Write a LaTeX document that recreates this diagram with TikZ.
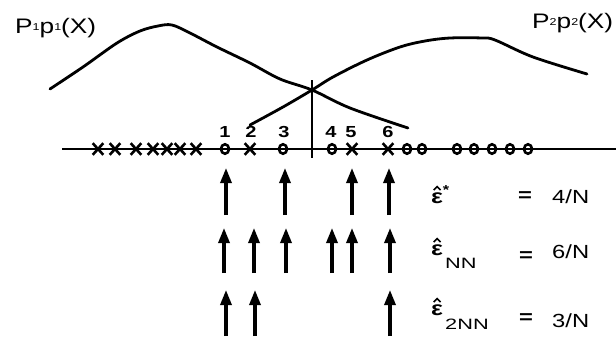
\documentclass[tikz,border=0pt]{standalone}
\usepackage{fontspec}
\setmainfont{Liberation Sans}
\newfontfamily\lab[FakeStretch=1.25]{Liberation Sans}
\newfontfamily\labwide[FakeStretch=1.45]{Liberation Sans}
\usetikzlibrary{shapes.geometric,shapes.misc,arrows.meta}
\newcommand\smalldig[1]{\raisebox{2.5pt}{\fontsize{10}{10}\selectfont #1}}
\begin{document}
\begin{tikzpicture}[x=1pt,y=-1pt,
  curve/.style={line width=2.8pt, line join=round, line cap=round},
  axisline/.style={line width=2.1pt},
  xmark/.style={cross out, draw, line width=2.6pt, minimum width=8pt, minimum height=9pt, inner sep=0pt},
  omark/.style={ellipse, draw, line width=2.6pt, minimum width=8pt, minimum height=9.5pt, inner sep=0pt},
  uparrow/.style={-{Triangle[length=15pt,width=11pt]}, line width=3.2pt},
  hatmark/.style={line width=1.6pt, line join=miter},
  num/.style={font=\lab\bfseries\fontsize{16}{16}\selectfont, inner sep=0pt},
  title/.style={font=\lab\fontsize{21}{21}\selectfont, inner sep=0pt, anchor=base west},
  eps/.style={font=\lab\bfseries\fontsize{20}{20}\selectfont, inner sep=0pt, anchor=base west},
  star/.style={font=\lab\bfseries\fontsize{13}{13}\selectfont, inner sep=0pt},
  subs/.style={font=\labwide\fontsize{15}{15}\selectfont, inner sep=0pt, anchor=base west},
  val/.style={font=\lab\fontsize{19}{19}\selectfont, inner sep=0pt, anchor=base west},
  eqs/.style={font=\lab\bfseries\fontsize{19}{19}\selectfont, inner sep=0pt}]
\useasboundingbox (0,0) rectangle (616,349);

% titles
\node[title] (t1) at (15,33) {P\smalldig{1}p\smalldig{1}(X)};
\node[title] (t2) at (532,28) {P\smalldig{2}p\smalldig{2}(X)};

% density curves
\draw[curve] plot[smooth, tension=0.55] coordinates {(50,89) (83,67) (117,43) (140,31) (158,26) (172,25) (190,33) (217,47) (250,63) (280,79) (312,90) (350,108) (408,128)};
\draw[curve] plot[smooth, tension=0.55] coordinates {(250,125) (283,107) (312,90) (333,77) (367,60) (400,47) (425,41) (450,38) (482,38) (495,40) (533,57) (587,74)};
\coordinate (vtop) at (312,80);
\coordinate (vbot) at (312,158);
\draw[axisline] (vtop) -- (vbot);

% axis
\coordinate (axL) at (62,149);
\coordinate (axR) at (616,149);
\draw[axisline] (axL) -- (axR);

% sample marks
\foreach \i/\x in {a/98,b/115,c/136,d/153,e/167,f/180,g/196,s2/250,s5/352,s6/388}
  \node[xmark] (x\i) at (\x,149) {};
\foreach \i/\x in {s1/225,s3/283,s4/332,h/407,i/422,j/457,k/474,l/492,m/510,n/528}
  \node[omark] (o\i) at (\x,149) {};

% numbers
\foreach \n/\x in {1/225,2/251,3/284,4/331,5/351,6/388}
  \node[num] (n\n) at (\x,132) {\n};

% arrows row 1
\foreach \x [count=\k] in {226,285,352,389}{
  \coordinate (ra\k) at (\x,215); \coordinate (rb\k) at (\x,168);
  \draw[uparrow] (ra\k) -- (rb\k);}
% arrows row 2
\foreach \x [count=\k] in {224,254,286,332,352,390}{
  \coordinate (sa\k) at (\x,273); \coordinate (sb\k) at (\x,228);
  \draw[uparrow] (sa\k) -- (sb\k);}
% arrows row 3
\foreach \x [count=\k] in {226,255,390}{
  \coordinate (ta\k) at (\x,336); \coordinate (tb\k) at (\x,290);
  \draw[uparrow] (ta\k) -- (tb\k);}

% labels
\node[eps] (e1) at (431,203) {ε};
\draw[hatmark] ([shift={(-3.5,-2)}]e1.north) -- ([shift={(0,-5.5)}]e1.north) -- ([shift={(3.5,-2)}]e1.north);
\node[star] (e1s) at (446,190) {*};
\node[eqs] (q1) at (525,197) {=};
\node[val] (v1) at (552,203) {4/N};

\node[eps] (e2) at (431,255) {ε};
\draw[hatmark] ([shift={(-3.5,-2)}]e2.north) -- ([shift={(0,-5.5)}]e2.north) -- ([shift={(3.5,-2)}]e2.north);
\node[subs] (e2s) at (445,268) {NN};
\node[eqs] (q2) at (526,257) {=};
\node[val] (v2) at (552,258) {6/N};

\node[eps] (e3) at (431,315) {ε};
\draw[hatmark] ([shift={(-3.5,-2)}]e3.north) -- ([shift={(0,-5.5)}]e3.north) -- ([shift={(3.5,-2)}]e3.north);
\node[subs] (e3s) at (445,329) {2NN};
\node[eqs] (q3) at (526,319) {=};
\node[val] (v3) at (552,327) {3/N};
\end{tikzpicture}
\end{document}
